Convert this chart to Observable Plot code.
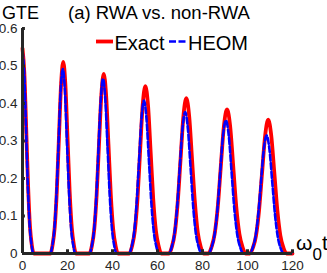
<!DOCTYPE html>
<html>
<head>
<meta charset="utf-8">
<script src="https://cdn.jsdelivr.net/npm/d3@7"></script>
<script src="https://cdn.jsdelivr.net/npm/@observablehq/plot@0.6"></script>
<style>
  html, body { margin: 0; padding: 0; background: #fff; }
  #chart { width: 327px; height: 273px; overflow: hidden; }
</style>
</head>
<body>
<div id="chart"></div>
<script>
// ---- Data ----
const tExact = [0,0.8,1.65,2.5,3.3,4.1,5.0,
  12.4,13.35,14.3,15.25,16.2,17.15,18.1,19.05,20.0,20.95,21.9,22.85,23.8,
  29.8,30.85,31.9,32.95,34.0,35.05,36.1,37.15,38.2,39.25,40.3,41.35,42.4,
  47.55,48.7,49.9,51.1,52.25,53.4,54.6,55.8,56.95,58.1,59.3,60.5,61.65,
  65.15,66.4,67.7,68.95,70.25,71.5,72.8,74.1,75.35,76.65,77.9,79.2,80.45,
  82.65,84.0,85.4,86.8,88.15,89.5,90.9,92.3,93.65,95.0,96.4,97.8,99.15,
  101.1,102.45,103.8,105.15,106.5,107.85,109.2,110.55,111.9,113.25,114.6,115.95,117.3,
  120];
const gteExact = [0.547,0.483,0.332,0.178,0.074,0.024,0,
  0,0.022,0.069,0.166,0.310,0.451,0.511,0.451,0.310,0.166,0.069,0.022,0,
  0,0.021,0.065,0.156,0.291,0.423,0.479,0.423,0.291,0.156,0.065,0.021,0,
  0,0.020,0.060,0.145,0.271,0.394,0.446,0.394,0.271,0.145,0.060,0.020,0,
  0,0.018,0.056,0.134,0.251,0.365,0.414,0.365,0.251,0.134,0.056,0.018,0,
  0,0.017,0.052,0.125,0.233,0.339,0.384,0.339,0.233,0.125,0.052,0.017,0,
  0,0.016,0.048,0.116,0.217,0.315,0.357,0.315,0.217,0.116,0.048,0.016,0,
  0];
const tHeom = [0,0.8,1.6,2.4,3.2,4.0,4.8,
  12.35,13.3,14.2,15.1,16.05,16.95,17.9,18.85,19.75,20.7,21.6,22.55,23.45,
  29.8,30.8,31.8,32.8,33.8,34.8,35.8,36.8,37.8,38.8,39.8,40.8,41.8,
  47.4,48.5,49.6,50.7,51.8,52.9,54.0,55.1,56.2,57.3,58.4,59.5,60.6,
  65.1,66.3,67.5,68.7,69.9,71.1,72.3,73.5,74.7,75.9,77.1,78.3,79.5,
  82.75,84.0,85.3,86.6,87.85,89.1,90.4,91.7,92.95,94.2,95.5,96.8,98.05,
  101.0,102.25,103.5,104.75,106.0,107.25,108.5,109.75,111.0,112.25,113.5,114.75,116.0,
  120];
const gteHeom = [0.540,0.477,0.328,0.175,0.073,0.024,0,
  0,0.022,0.067,0.160,0.298,0.434,0.492,0.434,0.298,0.160,0.067,0.022,0,
  0,0.020,0.063,0.151,0.283,0.411,0.466,0.411,0.283,0.151,0.063,0.020,0,
  0,0.018,0.055,0.132,0.247,0.360,0.408,0.360,0.247,0.132,0.055,0.018,0,
  0,0.017,0.051,0.122,0.229,0.333,0.377,0.333,0.229,0.122,0.051,0.017,0,
  0,0.016,0.048,0.115,0.215,0.313,0.355,0.313,0.215,0.115,0.048,0.016,0,
  0,0.014,0.043,0.102,0.191,0.278,0.315,0.278,0.191,0.102,0.043,0.014,0,
  0];
const xTicks = [0, 20, 40, 60, 80, 100, 120];
const yTicks = [0, 0.1, 0.2, 0.3, 0.4, 0.5, 0.6];
const yTickLabels = ["0", "0.1", "0.2", "0.3", "0.4", "0.5", "0.6"];
const seriesNames = ["Exact", "HEOM"];
const titleText = "(a) RWA vs. non-RWA";
const yLabel = "GTE";

// ---- Build tables ----
const exactData = tExact.map((t, i) => ({t, v: gteExact[i]}));
const heomData = tHeom.map((t, i) => ({t, v: gteHeom[i]}));

const FONT = "'Liberation Sans', Arial, Helvetica, sans-serif";
const AX = "#262626";
const RED = "#ff0000";
const BLUE = "#0000ff";

const chart = Plot.plot({
  width: 327,
  height: 273,
  marginLeft: 22,
  marginRight: 35,
  marginTop: 28,
  marginBottom: 20,
  style: {fontFamily: FONT, fontSize: "13.5px", color: AX, background: "#fff", overflow: "visible"},
  x: {domain: [0, 120], ticks: xTicks, tickSize: 0, tickPadding: 7, label: null, tickFormat: d => String(d)},
  y: {domain: [0, 0.6], ticks: yTicks, tickSize: 0, tickPadding: 5, label: null,
      tickFormat: d => yTickLabels[yTicks.findIndex(v => Math.abs(v - d) < 1e-9)]},
  marks: [
    Plot.line(exactData, {x: "t", y: "v", stroke: RED, strokeWidth: 3.8, curve: "monotone-x"}),
    Plot.line(heomData, {x: "t", y: "v", stroke: BLUE, strokeWidth: 2.6, strokeDasharray: "6,2.5", curve: "monotone-x"}),
    Plot.ruleX([0], {stroke: AX, strokeWidth: 3}),
    Plot.ruleY([0], {stroke: AX, strokeWidth: 3}),
    Plot.ruleY(yTicks, {x1: 0, x2: 1.3, stroke: AX, strokeWidth: 3}),
    Plot.ruleX(xTicks, {y1: 0, y2: 0.01, stroke: AX, strokeWidth: 3})
  ]
});

document.getElementById("chart").appendChild(chart);

// ---- Titles, legend, axis label ----
const svg = d3.select(chart);
const g = svg.append("g").attr("font-family", FONT).attr("fill", "#000")
  .attr("text-anchor", "start");
g.append("text").attr("x", 2).attr("y", 18.5).attr("font-size", 18).text(yLabel);
g.append("text").attr("x", 68).attr("y", 18.5).attr("font-size", 18.5).text(titleText);

g.append("line").attr("x1", 96).attr("x2", 113).attr("y1", 41.5).attr("y2", 41.5)
  .attr("stroke", RED).attr("stroke-width", 3.8);
g.append("text").attr("x", 114.5).attr("y", 50).attr("font-size", 20).text(seriesNames[0]);
g.append("line").attr("x1", 169).attr("x2", 187).attr("y1", 41.5).attr("y2", 41.5)
  .attr("stroke", BLUE).attr("stroke-width", 2.6).attr("stroke-dasharray", "7,2.5");
g.append("text").attr("x", 188).attr("y", 50).attr("font-size", 20).text(seriesNames[1]);

const xl = g.append("text").attr("x", 296).attr("y", 250).attr("font-size", 21);
xl.append("tspan").text("ω");
xl.append("tspan").attr("font-size", 17).attr("dy", 10).text("0");
xl.append("tspan").attr("dy", -10).text("t");
</script>
</body>
</html>
